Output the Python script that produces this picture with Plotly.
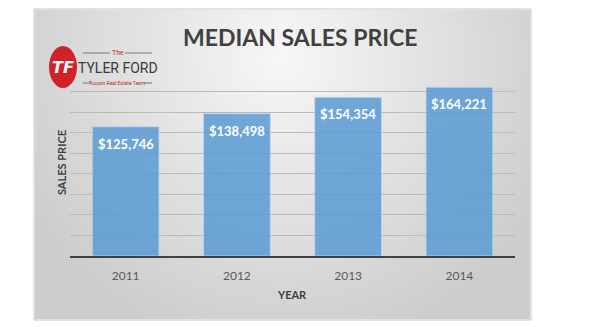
import base64, struct, zlib
import numpy as np
import plotly.graph_objects as go

years = ["2011", "2012", "2013", "2014"]
prices = [125746, 138498, 154354, 164221]
title_text = "MEDIAN SALES PRICE"
x_title = "YEAR"
y_title = "SALES PRICE"

W, H = 600, 327
ML, MR, MT, MB = 70, 85, 71, 71
PW, PH = W - ML - MR, H - MT - MB

# ---- gradient background image for the chart panel ----
def make_png(arr):
    h, w, _ = arr.shape
    raw = b"".join(b"\x00" + arr[i].astype(np.uint8).tobytes() for i in range(h))
    def chunk(t, d):
        c = struct.pack(">I", len(d)) + t + d
        return c + struct.pack(">I", zlib.crc32(t + d) & 0xffffffff)
    png = b"\x89PNG\r\n\x1a\n"
    png += chunk(b"IHDR", struct.pack(">IIBBBBB", w, h, 8, 2, 0, 0, 0))
    png += chunk(b"IDAT", zlib.compress(raw, 9))
    png += chunk(b"IEND", b"")
    return "data:image/png;base64," + base64.b64encode(png).decode()

gw, gh = 120, 80
u = np.linspace(0, 1, gw)[None, :]
v = np.linspace(0, 1, gh)[:, None]
d = np.sqrt(((u - 0.5) / 0.62) ** 2 + ((v - 0.15) / 1.0) ** 2)
val = np.clip(248 - 44 * d, 205, 248)
img = np.repeat(val[:, :, None], 3, axis=2)
grad_src = make_png(img)

px0, px1, py0, py1 = 34, 531, 9, 320  # panel in pixels (top-left origin)
def fx(p):
    return (p - ML) / PW
def fy(p):
    return (H - MB - p) / PH

fig = go.Figure()
fig.add_trace(go.Bar(
    x=years, y=prices,
    marker=dict(color="rgba(91,155,213,0.86)", line=dict(color="rgba(190,215,240,0.8)", width=1)),
    width=0.6,
    hoverinfo="skip",
))

annotations = []
for i, p in enumerate(prices):
    annotations.append(dict(
        x=i, y=p, xref="x", yref="y", text="$" + f"{p:,}",
        showarrow=False, yanchor="top", yshift=-7,
        font=dict(family="Lato", size=13, color="white", weight="bold"),
    ))

fnt = "Lato"
logo_font = "Roboto"
annotations += [
    dict(x=fx(300), y=fy(37), xref="paper", yref="paper", text=title_text,
         showarrow=False, xanchor="center", yanchor="middle",
         font=dict(family=fnt, size=23, color="#404040", weight="bold")),
    dict(x=fx(292), y=fy(294), xref="paper", yref="paper", text=x_title,
         showarrow=False, xanchor="center", yanchor="middle",
         font=dict(family=fnt, size=11, color="#404040", weight="bold")),
    dict(x=fx(61), y=fy(163), xref="paper", yref="paper", text=y_title,
         showarrow=False, xanchor="center", yanchor="middle", textangle=-90,
         font=dict(family=fnt, size=11, color="#404040", weight="bold")),
    # logo texts
    dict(x=fx(63), y=fy(67), xref="paper", yref="paper", text="<i>TF</i>",
         showarrow=False, xanchor="center", yanchor="middle",
         font=dict(family="DejaVu Sans", size=16, color="white", weight="bold")),
    dict(x=fx(117.5), y=fy(53), xref="paper", yref="paper", text="The",
         showarrow=False, xanchor="center", yanchor="middle",
         font=dict(family=logo_font, size=7, color="#c0272d")),
    dict(x=fx(118), y=fy(68.5), xref="paper", yref="paper", text="TYLER FORD",
         showarrow=False, xanchor="center", yanchor="middle",
         font=dict(family=logo_font, size=14, color="#3a3a3a")),
    dict(x=fx(117.5), y=fy(83), xref="paper", yref="paper", text="Tucson Real Estate Team",
         showarrow=False, xanchor="center", yanchor="middle",
         font=dict(family=logo_font, size=5, color="#c0272d")),
]

shapes = [
    # panel border
    dict(type="rect", xref="paper", yref="paper", x0=fx(px0), x1=fx(px1), y0=fy(py1), y1=fy(py0),
         line=dict(color="#c4c4c4", width=1), fillcolor="rgba(0,0,0,0)", layer="below"),
    # logo
    dict(type="circle", xref="paper", yref="paper", x0=fx(49), x1=fx(77), y0=fy(88), y1=fy(46),
         fillcolor="#cf2229", line=dict(width=0), layer="above"),
    dict(type="line", xref="paper", yref="paper", x0=fx(83), x1=fx(110), y0=fy(53), y1=fy(53),
         line=dict(color="#777777", width=1)),
    dict(type="line", xref="paper", yref="paper", x0=fx(125), x1=fx(152), y0=fy(53), y1=fy(53),
         line=dict(color="#777777", width=1)),
    dict(type="line", xref="paper", yref="paper", x0=fx(83), x1=fx(91), y0=fy(83), y1=fy(83),
         line=dict(color="#777777", width=1)),
    dict(type="line", xref="paper", yref="paper", x0=fx(144), x1=fx(152), y0=fy(83), y1=fy(83),
         line=dict(color="#777777", width=1)),
]

images = [dict(source=grad_src, xref="paper", yref="paper",
               x=fx(px0 + 1), y=fy(py0 + 1), sizex=(px1 - px0 - 2) / PW, sizey=(py1 - py0 - 2) / PH,
               xanchor="left", yanchor="top", sizing="stretch", layer="below", opacity=1)]

fig.update_layout(
    width=W, height=H,
    margin=dict(l=ML, r=MR, t=MT, b=MB),
    paper_bgcolor="white", plot_bgcolor="rgba(0,0,0,0)",
    showlegend=False,
    bargap=0.4,
    annotations=annotations, shapes=shapes, images=images,
    xaxis=dict(type="category", range=[-0.5, len(years) - 0.5], autorange=False,
               showline=True, linecolor="#404040", linewidth=2, showgrid=False,
               ticks="outside", ticklen=8, tickcolor="rgba(0,0,0,0)",
               tickfont=dict(family=fnt, size=12, color="#595959"), fixedrange=True),
    yaxis=dict(range=[0, 180000], dtick=20000, showgrid=True, gridcolor="#bababa", gridwidth=1,
               showticklabels=False, zeroline=False, fixedrange=True),
)

fig.write_html("out.html")
